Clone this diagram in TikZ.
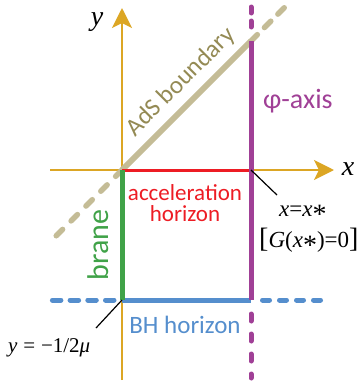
\documentclass[tikz,border=0pt]{standalone}
\usepackage{fontspec}
\setmainfont{Liberation Serif}
\newfontfamily\lblfont{Carlito}
\usetikzlibrary{arrows.meta}
\definecolor{axisgold}{RGB}{220,166,36}
\definecolor{adstan}{RGB}{196,188,150}
\definecolor{adstext}{RGB}{148,138,84}
\definecolor{phipurple}{RGB}{160,64,150}
\definecolor{accred}{RGB}{237,28,36}
\definecolor{branegreen}{RGB}{64,162,72}
\definecolor{bhblue}{RGB}{85,142,205}
\tikzset{
  axisline/.style={draw=axisgold, line width=2.6pt, -{Stealth[length=20pt,width=20pt,inset=5pt]}},
  thickline/.style={line width=5pt},
  dashline/.style={line width=5pt, line cap=round},
  lbl/.style={font=\lblfont\fontsize{23}{21}\selectfont, inner sep=0pt},
  mathlbl/.style={font=\fontsize{21}{22}\selectfont, inner sep=0pt},
  leader/.style={draw=black, line width=1.2pt}
}
\newcommand{\bigast}{\raisebox{-7pt}{\fontsize{28}{28}\selectfont *}}
\begin{document}
\begin{tikzpicture}[x=1pt,y=-1pt]
\useasboundingbox (0,0) rectangle (358,386);
% key points
\coordinate (O) at (122,170);
\coordinate (Ytop) at (122,8);
\coordinate (Ybot) at (122,380);
\coordinate (Xleft) at (50,170);
\coordinate (Xright) at (334,170);
\coordinate (P) at (251,170);
\coordinate (B) at (122,300);
\coordinate (Q) at (251,300);
\coordinate (A) at (251,41);
\coordinate (Aend) at (285,7);
\coordinate (Ostart) at (118,174);
\coordinate (Astart) at (51,241);
\coordinate (Ptop) at (251,7);
\coordinate (Ptopend) at (251,31);
\coordinate (Pbotstart) at (251,314);
\coordinate (Pbot) at (251,378);
\coordinate (Bleftstart) at (114,300);
\coordinate (Bleft) at (52,300);
\coordinate (Brightstart) at (262.5,300);
\coordinate (Bright) at (321,300);
% axes
\draw[axisline] (Ybot) -- (Ytop);
\draw[axisline] (Xleft) -- (Xright);
% dashed extensions
\draw[dashline, draw=adstan, line width=5.5pt, dash pattern=on 9pt off 12pt] (O) -- (Astart);
\draw[dashline, draw=adstan, line width=5.5pt, dash pattern=on 9pt off 10pt] (A) -- (Aend);
\draw[dashline, dash pattern=on 6pt off 8pt, draw=phipurple] (Ptop) -- (Ptopend);
\draw[dashline, dash pattern=on 7pt off 13pt, draw=phipurple] (Pbotstart) -- (Pbot);
\draw[dashline, draw=bhblue, dash pattern=on 8.5pt off 9.2pt] (Bleftstart) -- (Bleft);
\draw[dashline, draw=bhblue, dash pattern=on 7pt off 10pt] (Brightstart) -- (Bright);
% solid lines
\draw[thickline, draw=adstan, line width=6pt] (O) -- (A);
\draw[line width=3pt, draw=accred] (O) -- (P);
\draw[thickline, draw=bhblue] (B) -- (Q);
\draw[thickline, draw=branegreen] (O) -- (B);
\draw[thickline, draw=phipurple] (A) -- (Q);
% labels
\node[mathlbl, font=\itshape\fontsize{28}{28}\selectfont] (ylab) at (97,22) {y};
\node[mathlbl, font=\itshape\fontsize{28}{28}\selectfont] (xlab) at (348,169) {x};
\node[lbl, text=adstext, rotate=45, font=\lblfont\fontsize{25}{25}\selectfont] (adslab) at (181,82) {AdS boundary};
\node[lbl, text=phipurple, anchor=base west, font=\lblfont\fontsize{28}{28}\selectfont] (philab) at (263,108) {φ-axis};
\node[lbl, text=accred, align=center] (acclab) at (185,203) {acceleration\\horizon};
\node[lbl, text=branegreen, rotate=90, font=\lblfont\fontsize{30}{30}\selectfont] (branelab) at (98,245) {brane};
\node[lbl, text=bhblue, anchor=base, font=\lblfont\fontsize{25}{25}\selectfont] (bhlab) at (185,333) {BH horizon};
\node[mathlbl, anchor=base west] (ylbl) at (8,352) {\textit{y}\;=\;−1/2\textit{μ}};
\node[mathlbl, anchor=base west, font=\fontsize{23}{23}\selectfont] (xstar) at (279,216) {\textit{x}=\textit{x}\bigast};
\node[mathlbl, anchor=base west, font=\fontsize{23}{23}\selectfont] (gstar) at (259,247) {{\fontsize{28}{28}\selectfont[}\textit{G}(\textit{x}\bigast)=0{\fontsize{28}{28}\selectfont]}};
% leaders
\coordinate (L1) at (277,195);
\coordinate (L2) at (96,328);
\draw[leader] (P) -- (L1);
\draw[leader] (B) -- (L2);
\end{tikzpicture}
\end{document}
